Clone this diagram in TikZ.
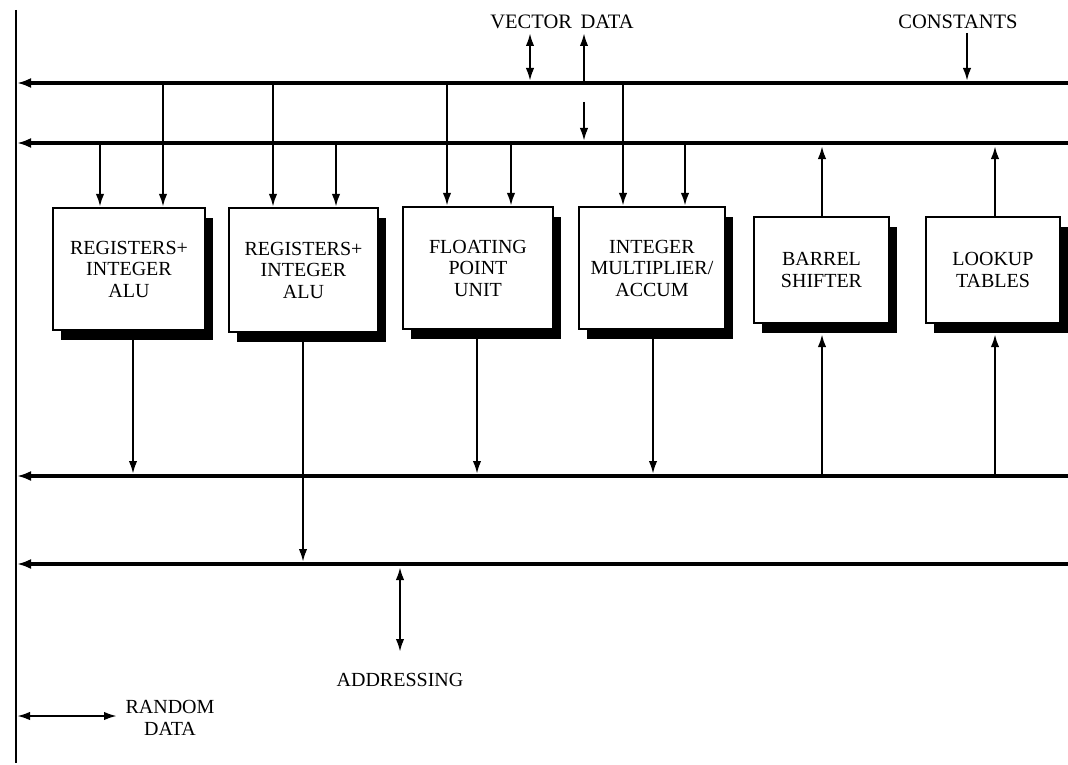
\documentclass[tikz,border=0pt]{standalone}
\usepackage{fontspec}
\setmainfont{Liberation Serif}
\usetikzlibrary{arrows.meta,shadows}
\begin{document}
\begin{tikzpicture}[x=1pt,y=-1pt,
  >={Latex[length=13pt,width=8.5pt]},
  bus/.style={line width=3.3pt, -{Latex[length=14pt,width=10pt]}},
  wire/.style={line width=2.3pt},
  unit/.style={draw, line width=2.2pt, fill=white, inner sep=0pt, align=center,
     font=\fontsize{20}{21.5}\selectfont,
     drop shadow={shadow xshift=8pt, shadow yshift=-10pt, fill=black, opacity=1}},
  lbl/.style={font=\fontsize{20}{21.5}\selectfont, inner sep=1pt, align=center}]
\useasboundingbox (0,0) rectangle (1068,765);

% left rail
\coordinate (rtop) at (16,10);
\coordinate (rbot) at (16,763);
\draw[line width=2.8pt] (rtop) -- (rbot);

% the four buses, all flowing to the left rail
\coordinate (b1) at (17,83);  \coordinate (b1e) at (1068,83);
\coordinate (b2) at (17,143); \coordinate (b2e) at (1068,143);
\coordinate (b3) at (17,476); \coordinate (b3e) at (1068,476);
\coordinate (b4) at (17,564); \coordinate (b4e) at (1068,564);
\foreach \b in {b1,b2,b3,b4} \draw[bus] (\b e) -- (\b);

% functional units
\node[unit, minimum width=152pt, minimum height=122pt] (alu1) at (129,269) {REGISTERS+\\INTEGER\\ALU};
\node[unit, minimum width=149pt, minimum height=124pt] (alu2) at (303.5,270) {REGISTERS+\\INTEGER\\ALU};
\node[unit, minimum width=150pt, minimum height=122pt] (fpu) at (478,268) {FLOATING\\POINT\\UNIT};
\node[unit, minimum width=146pt, minimum height=122pt] (mac) at (652,268) {INTEGER\\MULTIPLIER/\\ACCUM};
\node[unit, minimum width=135pt, minimum height=106pt] (bsh) at (821.5,270) {BARREL\\SHIFTER};
\node[unit, minimum width=134pt, minimum height=106pt] (lut) at (993,270) {LOOKUP\\TABLES};
\coordinate (bshs) at ([yshift=-10pt]bsh.south);
\coordinate (luts) at ([yshift=-10pt]lut.south);

% operand feeds from the upper buses
\draw[wire,->] (163,0 |- b1) -- (163,0 |- alu1.north);
\draw[wire,->] (100,0 |- b2) -- (100,0 |- alu1.north);
\draw[wire,->] (273,0 |- b1) -- (273,0 |- alu2.north);
\draw[wire,->] (336,0 |- b2) -- (336,0 |- alu2.north);
\draw[wire,->] (447,0 |- b1) -- (447,0 |- fpu.north);
\draw[wire,->] (511,0 |- b2) -- (511,0 |- fpu.north);
\draw[wire,->] (623,0 |- b1) -- (623,0 |- mac.north);
\draw[wire,->] (685,0 |- b2) -- (685,0 |- mac.north);

% results onto the lower buses
\draw[wire,->] (133,0 |- alu1.south) -- (133,474);
\draw[wire,->] (303,0 |- alu2.south) -- (303,562);
\draw[wire,->] (477,0 |- fpu.south) -- (477,474);
\draw[wire,->] (653,0 |- mac.south) -- (653,474);

% shifter and table paths
\draw[wire,->] (822,0 |- b3) -- (822,0 |- bshs);
\draw[wire,->] (822,0 |- bsh.north) -- (822,146);
\draw[wire,->] (995,0 |- b3) -- (995,0 |- luts);
\draw[wire,->] (995,0 |- lut.north) -- (995,146);

% external connections
\node[lbl, font=\fontsize{20.5}{22}\selectfont] (vec) at (562,22) {VECTOR\, DATA};
\node[lbl, font=\fontsize{20.5}{22}\selectfont] (cst) at (958,22) {CONSTANTS};
\coordinate (v1) at (530,33);
\coordinate (v2) at (584,33);
\coordinate (c1) at (967,33);
\coordinate (v3) at (584,102);
\draw[wire,<->] (v1) -- (530,81);
\draw[wire,->] (584,0 |- b1) -- (v2);
\draw[wire,->] (c1) -- (967,81);
\draw[wire,->] (v3) -- (584,141);

\node[lbl] (adr) at (400,680) {ADDRESSING};
\coordinate (a1) at (400,652);
\draw[wire,<->] (400,567) -- (a1);

\node[lbl] (rnd) at (170,718) {RANDOM\\DATA};
\coordinate (r1) at (117,716);
\draw[wire,<->] (17,716) -- (r1);
\end{tikzpicture}
\end{document}
